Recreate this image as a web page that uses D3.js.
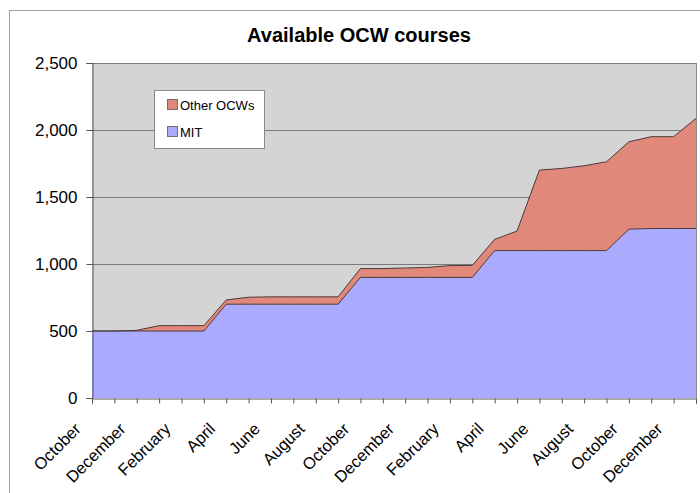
<!DOCTYPE html>
<html>
<head>
<meta charset="utf-8">
<script src="https://cdn.jsdelivr.net/npm/d3@7"></script>
<style>
  html, body { margin: 0; padding: 0; background: #ffffff; }
  svg { display: block; }
</style>
</head>
<body>
<script>
// ---- Data ----
const months = [
  "October","November","December","January","February","March","April","May","June","July","August","September",
  "October","November","December","January","February","March","April","May","June","July","August","September",
  "October","November","December","January"
];
const mitValues = [500,500,500,500,500,500,700,700,700,700,700,700,
                   900,900,900,900,900,900,1100,1100,1100,1100,1100,1100,
                   1260,1265,1265,1265];
const otherValues = [0,0,5,40,40,40,32,52,55,55,55,55,
                     66,66,70,75,88,90,84,146,601,613,633,663,
                     652,685,685,822];
const seriesNames = ["MIT", "Other OCWs"];
const yTickValues = [0, 500, 1000, 1500, 2000, 2500];
const chartTitle = "Available OCW courses";

// ---- Layout ----
const W = 700, H = 493;
const plot = { left: 92, right: 696, top: 63, bottom: 398 };
const colors = { "MIT": "#aaaaff", "Other OCWs": "#e0887a" };

const svg = d3.select("body").append("svg")
  .attr("width", W).attr("height", H);

// outer chart frame
svg.append("rect")
  .attr("x", 9.5).attr("y", 10.5)
  .attr("width", 800).attr("height", 600)
  .attr("fill", "#ffffff").attr("stroke", "#a0a0a0");

const rows = months.map((m, i) => ({ i, "MIT": mitValues[i], "Other OCWs": otherValues[i] }));

const x = d3.scalePoint().domain(d3.range(months.length)).range([plot.left, plot.right]);
const y = d3.scaleLinear().domain([0, 2500]).range([plot.bottom, plot.top]);

// plot area background
svg.append("rect")
  .attr("x", plot.left).attr("y", plot.top)
  .attr("width", plot.right - plot.left).attr("height", plot.bottom - plot.top)
  .attr("fill", "#d4d4d4");

// gridlines
svg.append("g").selectAll("line")
  .data(yTickValues.filter(v => v > 0))
  .join("line")
  .attr("x1", plot.left).attr("x2", plot.right)
  .attr("y1", d => Math.round(y(d)) + 0.5).attr("y2", d => Math.round(y(d)) + 0.5)
  .attr("stroke", "#7a7a7a").attr("stroke-width", 1);

// stacked areas
const stack = d3.stack().keys(seriesNames);
const stacked = stack(rows);

const area = d3.area()
  .x(d => x(d.data.i))
  .y0(d => y(d[0]))
  .y1(d => y(d[1]));
const topLine = d3.line()
  .x(d => x(d.data.i))
  .y(d => y(d[1]));

svg.append("g").selectAll("path.area")
  .data(stacked)
  .join("path")
  .attr("class", "area")
  .attr("d", area)
  .attr("fill", d => colors[d.key]);

svg.append("g").selectAll("path.edge")
  .data(stacked)
  .join("path")
  .attr("class", "edge")
  .attr("d", topLine)
  .attr("fill", "none")
  .attr("stroke", "#4a3a3a")
  .attr("stroke-width", 1);

// right border of plot area
svg.append("line")
  .attr("x1", plot.right + 0.5).attr("x2", plot.right + 0.5)
  .attr("y1", plot.top).attr("y2", plot.bottom)
  .attr("stroke", "#8a8a8a");

// Y axis
const yAxis = d3.axisLeft(y)
  .tickValues(yTickValues)
  .tickSize(6)
  .tickPadding(9)
  .tickFormat(d3.format(","));
const gy = svg.append("g")
  .attr("transform", `translate(${plot.left + 0.5},0)`)
  .call(yAxis);
gy.select(".domain").attr("stroke", "#555555");
gy.selectAll(".tick line").attr("stroke", "#555555");
gy.selectAll(".tick text")
  .attr("font-family", "'Liberation Sans', Arial, sans-serif")
  .attr("font-size", 17)
  .attr("fill", "#000000");

// X axis
const xAxis = d3.axisBottom(x)
  .tickSize(5)
  .tickFormat(() => "");
const gx = svg.append("g")
  .attr("transform", `translate(0,${plot.bottom + 0.5})`)
  .call(xAxis);
gx.select(".domain").attr("stroke", "#555555");
gx.selectAll(".tick line").attr("stroke", "#555555");

svg.append("g").selectAll("text.xlab")
  .data(months.map((m, i) => ({ m, i })).filter(d => d.i % 2 === 0))
  .join("text")
  .attr("class", "xlab")
  .attr("transform", d => `translate(${x(d.i) - 10},${430}) rotate(-45)`)
  .attr("text-anchor", "end")
  .attr("font-family", "'Liberation Sans', Arial, sans-serif")
  .attr("font-size", 16.5)
  .attr("fill", "#000000")
  .text(d => d.m);

// Title
svg.append("text")
  .attr("x", 359).attr("y", 42)
  .attr("text-anchor", "middle")
  .attr("font-family", "'Liberation Sans', Arial, sans-serif")
  .attr("font-weight", "bold")
  .attr("font-size", 20)
  .attr("fill", "#000000")
  .text(chartTitle);

// Legend
const legend = svg.append("g");
legend.append("rect")
  .attr("x", 154.5).attr("y", 90.5)
  .attr("width", 110).attr("height", 58)
  .attr("fill", "#ffffff").attr("stroke", "#8a8a8a");
const legendItems = ["Other OCWs", "MIT"];
legendItems.forEach((name, k) => {
  const cy = 105 + k * 27;
  legend.append("rect")
    .attr("x", 167.5).attr("y", cy - 5.5)
    .attr("width", 10).attr("height", 10)
    .attr("fill", colors[name]).attr("stroke", "#7a6a6a");
  legend.append("text")
    .attr("x", 180).attr("y", cy + 4.5)
    .attr("font-family", "'Liberation Sans', Arial, sans-serif")
    .attr("font-size", 13)
    .attr("fill", "#000000")
    .text(name);
});
</script>
</body>
</html>
